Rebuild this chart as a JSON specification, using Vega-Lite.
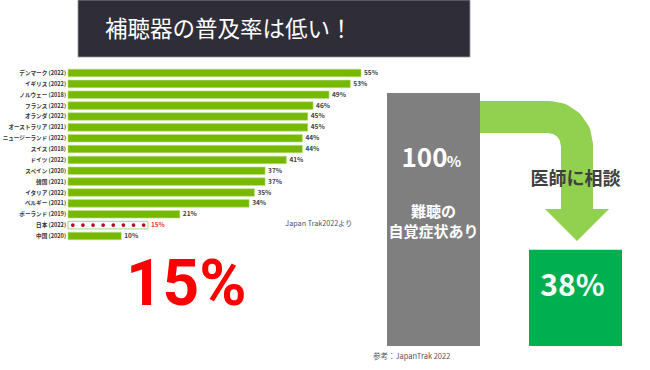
{
  "$schema": "https://vega.github.io/schema/vega-lite/v6.json",
  "width": 650,
  "height": 370,
  "autosize": "none",
  "padding": 0,
  "background": "white",
  "config": {"view": {"stroke": null}, "font": "Noto Sans CJK JP"},
  "resolve": {"scale": {"x": "independent", "y": "independent"}},
  "layer": [
    {
      "data": {"values": [{"heading": "補聴器の普及率は低い！"}]},
      "encoding": {
        "x": {"field": "heading", "type": "nominal", "axis": null, "scale": {"range": [78, 470], "paddingInner": 0, "paddingOuter": 0}},
        "y": {"field": "heading", "type": "nominal", "axis": null, "scale": {"range": [0, 57], "paddingInner": 0, "paddingOuter": 0}}
      },
      "layer": [
        {"mark": {"type": "rect", "fill": "#2e2d38", "stroke": "#9a9aa0", "strokeWidth": 0.8}},
        {"mark": {"type": "text", "color": "white", "fontSize": 22.5, "align": "left", "baseline": "middle", "dx": -169, "dy": 1}, "encoding": {"text": {"field": "heading"}}}
      ]
    },
    {
      "data": {"values": [
        {"country": "デンマーク (2022)", "rate": 55, "label": "55%"},
        {"country": "イギリス (2022)", "rate": 53, "label": "53%"},
        {"country": "ノルウェー (2018)", "rate": 49, "label": "49%"},
        {"country": "フランス (2022)", "rate": 46, "label": "46%"},
        {"country": "オランダ (2022)", "rate": 45, "label": "45%"},
        {"country": "オーストラリア (2021)", "rate": 45, "label": "45%"},
        {"country": "ニュージーランド (2022)", "rate": 44, "label": "44%"},
        {"country": "スイス (2018)", "rate": 44, "label": "44%"},
        {"country": "ドイツ (2022)", "rate": 41, "label": "41%"},
        {"country": "スペイン (2020)", "rate": 37, "label": "37%"},
        {"country": "韓国 (2021)", "rate": 37, "label": "37%"},
        {"country": "イタリア (2022)", "rate": 35, "label": "35%"},
        {"country": "ベルギー (2021)", "rate": 34, "label": "34%"},
        {"country": "ポーランド (2019)", "rate": 21, "label": "21%"},
        {"country": "日本 (2022)", "rate": 15, "label": "15%"},
        {"country": "中国 (2020)", "rate": 10, "label": "10%"}
      ]},
      "encoding": {
        "y": {"field": "country", "type": "nominal", "axis": null, "sort": null,
          "scale": {"domain": ["デンマーク (2022)", "イギリス (2022)", "ノルウェー (2018)", "フランス (2022)", "オランダ (2022)", "オーストラリア (2021)", "ニュージーランド (2022)", "スイス (2018)", "ドイツ (2022)", "スペイン (2020)", "韓国 (2021)", "イタリア (2022)", "ベルギー (2021)", "ポーランド (2019)", "日本 (2022)", "中国 (2020)"],
            "range": [67.6, 241.4], "paddingInner": 0.3, "paddingOuter": 0.15}}
      },
      "layer": [
        {
          "transform": [{"filter": "datum.country !== '日本 (2022)'"}],
          "mark": {"type": "bar", "fill": "#76b900", "stroke": "#b9df86", "strokeWidth": 0.6},
          "encoding": {"x": {"field": "rate", "type": "quantitative", "axis": null, "scale": {"domain": [0, 55], "range": [68, 361], "nice": false, "zero": true}}}
        },
        {
          "transform": [{"filter": "datum.country === '日本 (2022)'"}],
          "mark": {"type": "bar", "fill": "white", "stroke": "#a9d18e", "strokeWidth": 1},
          "encoding": {"x": {"field": "rate", "type": "quantitative"}}
        },
        {
          "data": {"values": [
            {"country": "日本 (2022)", "pos": 0.9},
            {"country": "日本 (2022)", "pos": 2.8},
            {"country": "日本 (2022)", "pos": 4.7},
            {"country": "日本 (2022)", "pos": 6.6},
            {"country": "日本 (2022)", "pos": 8.5},
            {"country": "日本 (2022)", "pos": 10.4},
            {"country": "日本 (2022)", "pos": 12.3},
            {"country": "日本 (2022)", "pos": 14.2}
          ]},
          "mark": {"type": "point", "shape": "circle", "filled": true, "size": 14, "color": "#c0001a", "opacity": 1},
          "encoding": {"x": {"field": "pos", "type": "quantitative"}}
        },
        {
          "mark": {"type": "text", "align": "left", "baseline": "middle", "dx": 3, "fontSize": 6.5, "fontWeight": "bold"},
          "encoding": {
            "x": {"field": "rate", "type": "quantitative"},
            "text": {"field": "label"},
            "color": {"condition": {"test": "datum.country === '日本 (2022)'", "value": "#ff3333"}, "value": "#404040"}
          }
        },
        {
          "mark": {"type": "text", "align": "right", "baseline": "middle", "dx": -2, "fontSize": 5.6, "fontWeight": "bold", "color": "#333333"},
          "encoding": {"x": {"datum": 0}, "text": {"field": "country"}}
        },
        {
          "data": {"values": [{"note": "Japan Trak2022より"}]},
          "mark": {"type": "text", "align": "left", "baseline": "middle", "fontSize": 7.2, "color": "#44546a", "dy": -1},
          "encoding": {"x": {"datum": 40.8}, "y": {"datum": "日本 (2022)"}, "text": {"field": "note"}}
        },
        {
          "transform": [{"filter": "datum.country === '日本 (2022)'"}],
          "mark": {"type": "text", "align": "center", "baseline": "alphabetic", "dy": 69, "fontSize": 64, "fontWeight": "bold", "font": "Roboto", "color": "#ff0000"},
          "encoding": {"x": {"datum": 22.2}, "y": {"datum": "中国 (2020)"}, "text": {"field": "label"}}
        }
      ]
    },
    {
      "resolve": {"scale": {"x": "independent"}},
      "layer": [
        {
          "data": {"values": [
            {"step": 1, "run": 0, "drop": 90.5},
            {"step": 2, "run": 71.1, "drop": 90.5},
            {"step": 3, "run": 82.2, "drop": 89.7},
            {"step": 4, "run": 91.5, "drop": 87.3},
            {"step": 5, "run": 97.8, "drop": 83.7},
            {"step": 6, "run": 100, "drop": 79.4},
            {"step": 7, "run": 100, "drop": 53.0}
          ]},
          "mark": {"type": "line", "color": "#92d050", "strokeWidth": 32, "strokeCap": "butt", "strokeJoin": "round"},
          "encoding": {
            "x": {"field": "run", "type": "quantitative", "axis": null, "scale": {"domain": [0, 100], "range": [480, 577], "nice": false}},
            "y": {"field": "drop", "type": "quantitative", "axis": null, "scale": {"domain": [0, 100], "range": [346, 93], "nice": false}},
            "order": {"field": "step"}
          }
        },
        {
          "data": {"values": [{"run": 100, "drop": 47.8}]},
          "mark": {"type": "point", "shape": "M-1,-0.5L1,-0.5L0,0.5Z", "size": 4096, "filled": true, "color": "#92d050", "opacity": 1, "strokeWidth": 0},
          "encoding": {
            "x": {"field": "run", "type": "quantitative", "axis": null, "scale": {"domain": [0, 100], "range": [480, 577], "nice": false}},
            "y": {"field": "drop", "type": "quantitative", "axis": null, "scale": {"domain": [0, 100], "range": [346, 93], "nice": false}}
          }
        },
        {
          "data": {"values": [
            {"stage": "難聴の自覚症状あり", "share": 100, "label": "100%"},
            {"stage": "医師に相談", "share": 38, "label": "38%"}
          ]},
          "encoding": {
            "x": {"field": "stage", "type": "nominal", "axis": null, "sort": null, "scale": {"range": [387, 622], "paddingInner": 0.345, "paddingOuter": 0}}
          },
          "layer": [
            {
              "mark": {"type": "bar"},
              "encoding": {
                "y": {"field": "share", "type": "quantitative", "axis": null, "scale": {"domain": [0, 100], "range": [346, 93], "nice": false}},
                "color": {"field": "stage", "type": "nominal", "sort": null, "legend": null, "scale": {"range": ["#7f7f7f", "#00b050"]}}
              }
            },
            {
              "transform": [{"filter": "datum.stage === '難聴の自覚症状あり'"}],
              "mark": {"type": "text", "align": "center", "baseline": "alphabetic", "dx": -9, "fontSize": 26, "fontWeight": "bold", "color": "white"},
              "encoding": {"y": {"datum": 70.9}, "text": {"field": "share"}}
            },
            {
              "transform": [{"filter": "datum.stage === '難聴の自覚症状あり'"}],
              "mark": {"type": "text", "align": "center", "baseline": "alphabetic", "dx": 20.5, "fontSize": 15, "fontWeight": "bold", "color": "white"},
              "encoding": {"y": {"datum": 70.9}, "text": {"value": "%"}}
            },
            {
              "transform": [{"filter": "datum.stage === '難聴の自覚症状あり'"}],
              "mark": {"type": "text", "align": "center", "baseline": "middle", "fontSize": 15, "fontWeight": "bold", "color": "white", "lineHeight": 20},
              "encoding": {"y": {"datum": 53}, "text": {"value": ["難聴の", "自覚症状あり"]}}
            },
            {
              "transform": [{"filter": "datum.stage === '医師に相談'"}],
              "mark": {"type": "text", "align": "center", "baseline": "middle", "dx": -3, "fontSize": 30, "fontWeight": "bold", "color": "white"},
              "encoding": {"y": {"datum": 23.3}, "text": {"field": "label"}}
            },
            {
              "transform": [{"filter": "datum.stage === '医師に相談'"}],
              "mark": {"type": "text", "align": "center", "baseline": "middle", "fontSize": 18, "fontWeight": "bold", "color": "#404040"},
              "encoding": {"y": {"datum": 65.6}, "text": {"field": "stage"}}
            },
            {
              "transform": [{"filter": "datum.stage === '難聴の自覚症状あり'"}],
              "mark": {"type": "text", "align": "left", "baseline": "middle", "dx": -14, "dy": 11, "fontSize": 7.5, "color": "#555555"},
              "encoding": {"x": {"field": "stage", "type": "nominal", "bandPosition": 0}, "y": {"datum": 0}, "text": {"value": "参考：JapanTrak 2022"}}
            }
          ]
        }
      ]
    }
  ]
}
